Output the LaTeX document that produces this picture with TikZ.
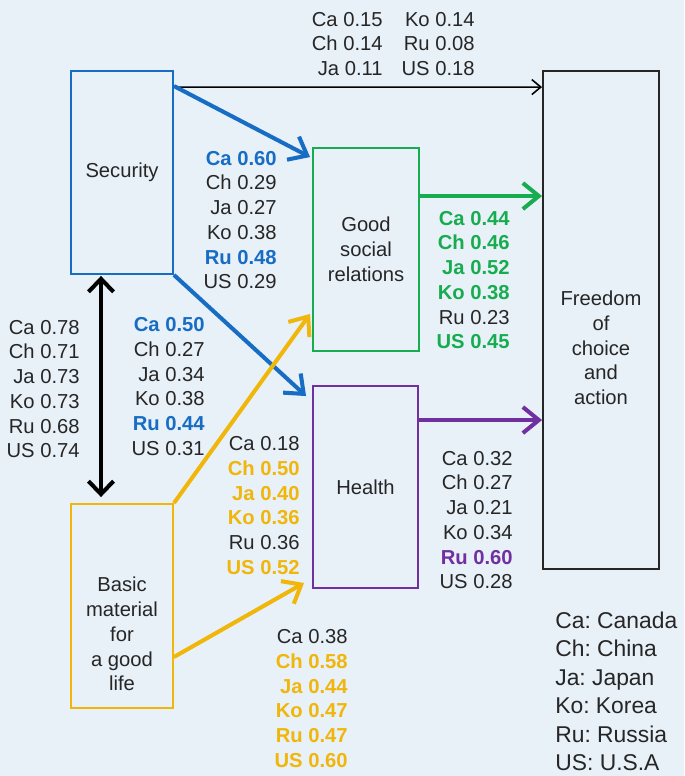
\documentclass[tikz,border=0pt]{standalone}
\usepackage{fontspec}
\setmainfont{Liberation Sans}
\usetikzlibrary{arrows.meta,calc}
\frenchspacing
\definecolor{bgc}{RGB}{232,240,248}
\definecolor{cblue}{RGB}{23,108,196}
\definecolor{cgreen}{RGB}{24,172,80}
\definecolor{cyel}{RGB}{240,182,10}
\definecolor{cpurp}{RGB}{112,48,160}
\definecolor{ctext}{RGB}{38,38,38}
\newcommand{\hbl}[1]{\textcolor{cblue}{\bfseries #1}}
\newcommand{\hgr}[1]{\textcolor{cgreen}{\bfseries #1}}
\newcommand{\hye}[1]{\textcolor{cyel}{\bfseries #1}}
\newcommand{\hpu}[1]{\textcolor{cpurp}{\bfseries #1}}
\tikzset{
  box/.style={draw, line width=1.1pt, inner sep=0pt, align=center, text=ctext,
    font=\fontsize{11.5}{14.1}\selectfont},
  boxtext/.style={inner sep=0pt, align=center, text=ctext, font=\fontsize{11.5}{14.1}\selectfont},
  lab/.style={inner sep=0pt, align=right, text=ctext, anchor=east, font=\fontsize{11.5}{14.1}\selectfont},
  legend/.style={inner sep=0pt, align=left, text=ctext, anchor=west, font=\fontsize{13}{16.2}\selectfont},
  harrow/.style={line width=2.3pt, -{Straight Barb[length=3.2mm,width=5.2mm]}},
  tarrow/.style={line width=0.9pt, -{Straight Barb[length=1.8mm,width=3mm]}},
}
\begin{document}
\begin{tikzpicture}[x=0.02cm,y=-0.02cm]
\fill[bgc] (0,0) rectangle (684,776);
\useasboundingbox (0,0) rectangle (684,776);

% boxes
\node[box, draw=cblue, minimum width=2.04cm, minimum height=4.06cm] (sec) at (122,172.5) {Security};
\node[box, draw=cgreen, minimum width=2.12cm, minimum height=4.06cm] (good) at (366,249.5) {Good\\social\\relations};
\node[box, draw=cpurp, minimum width=2.1cm, minimum height=4.04cm] (health) at (365.5,487) {Health};
\node[box, draw=ctext, minimum width=2.32cm, minimum height=9.96cm] (free) at (601,320) {};
\node[boxtext] (freetext) at (601,348) {Freedom\\of\\choice\\and\\action};
\node[box, draw=cyel, minimum width=2.04cm, minimum height=4.08cm] (basic) at (122,606) {};
\node[boxtext] (basictext) at (122,634) {Basic\\material\\for\\a good\\life};

% connectors
\draw[tarrow, draw=black] ([yshift=-0.34cm]sec.north east) -- ([yshift=-0.34cm]free.north west);
\draw[harrow, draw=cblue] ([yshift=-0.32cm]sec.north east) -- ([xshift=-0.04cm,yshift=-0.2cm]good.north west);
\draw[harrow, draw=cblue] (sec.south east) -- ([xshift=-0.12cm,yshift=-0.22cm]health.north west);
\draw[harrow, draw=cyel] (basic.north east) -- ([xshift=-0.04cm,yshift=0.76cm]good.south west);
\draw[harrow, draw=cyel] ([yshift=-1.02cm]basic.east) -- ([xshift=-0.16cm,yshift=0.12cm]health.south west);
\coordinate (g1) at ([yshift=-0.98cm]good.north east);
\draw[harrow, draw=cgreen] (g1) -- (g1 -| free.west);
\coordinate (h1) at ([yshift=-0.7cm]health.north east);
\draw[harrow, draw=cpurp] (h1) -- (h1 -| free.west);
\draw[line width=2.3pt, draw=black, {Straight Barb[length=2.6mm,width=5mm]}-{Straight Barb[length=2.6mm,width=5mm]}, shorten <=0.02cm, shorten >=0.12cm]
  ([xshift=-0.42cm]sec.south) -- ([xshift=-0.42cm]basic.north);

% labels
\node[lab] (ltopa) at (383,44) {Ca 0.15\\Ch 0.14\\Ja 0.11};
\node[lab] (ltopb) at (475,44) {Ko 0.14\\Ru 0.08\\US 0.18};
\node[lab] (lsg) at (277,220) {\hbl{Ca 0.60}\\Ch 0.29\\Ja 0.27\\Ko 0.38\\\hbl{Ru 0.48}\\US 0.29};
\node[lab] (lcor) at (80,389) {Ca 0.78\\Ch 0.71\\Ja 0.73\\Ko 0.73\\Ru 0.68\\US 0.74};
\node[lab] (lsh) at (205,386.5) {\hbl{Ca 0.50}\\Ch 0.27\\Ja 0.34\\Ko 0.38\\\hbl{Ru 0.44}\\US 0.31};
\node[lab] (lbg) at (300,505.5) {Ca 0.18\\\hye{Ch 0.50}\\\hye{Ja 0.40}\\\hye{Ko 0.36}\\Ru 0.36\\\hye{US 0.52}};
\node[lab] (lgf) at (510,280) {\hgr{Ca 0.44}\\\hgr{Ch 0.46}\\\hgr{Ja 0.52}\\\hgr{Ko 0.38}\\Ru 0.23\\\hgr{US 0.45}};
\node[lab] (lhf) at (513,520) {Ca 0.32\\Ch 0.27\\Ja 0.21\\Ko 0.34\\\hpu{Ru 0.60}\\US 0.28};
\node[lab] (lbh) at (348,698.5) {Ca 0.38\\\hye{Ch 0.58}\\\hye{Ja 0.44}\\\hye{Ko 0.47}\\\hye{Ru 0.47}\\\hye{US 0.60}};
\node[legend] (leg) at (555,691.5) {Ca: Canada\\Ch: China\\Ja: Japan\\Ko: Korea\\Ru: Russia\\US: U.S.A};
\end{tikzpicture}
\end{document}
